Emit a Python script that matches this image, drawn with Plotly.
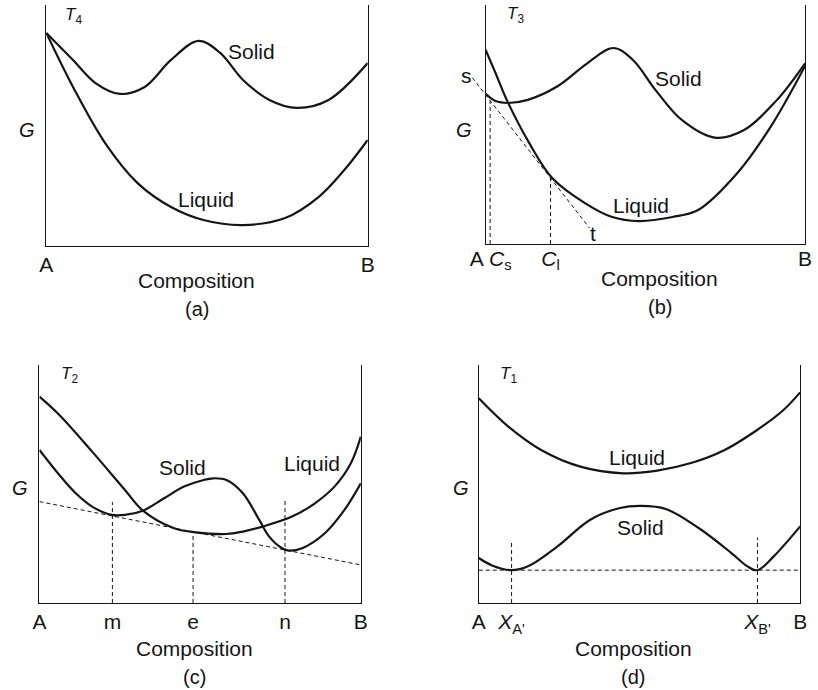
import plotly.graph_objects as go

W, H = 818, 690
FONT = "Liberation Sans, Arial, Helvetica, sans-serif"
INK = "#151515"

# ---------------- data (composition 0=A .. 1=B, free energy G in arbitrary units 0..100) -------------
# (a) T4
a_solid_x = [0, 0.083, 0.153, 0.229, 0.306, 0.388, 0.474, 0.541, 0.612, 0.694, 0.780, 0.878, 1.0]
a_solid_g = [88.4, 77.2, 67.6, 63.1, 66.0, 77.2, 85.1, 80.1, 68.9, 60.6, 57.3, 60.6, 75.9]
a_liquid_x = [0, 0.083, 0.183, 0.284, 0.388, 0.489, 0.612, 0.743, 0.847, 0.927, 1.0]
a_liquid_g = [88.4, 66.0, 42.7, 26.1, 16.2, 10.8, 8.7, 11.6, 20.3, 31.5, 44.0]
a_ticks = [0, 1]
a_ticktext = ["A", "B"]

# (b) T3
b_solid_x = [0, 0.031, 0.071, 0.132, 0.225, 0.317, 0.400, 0.461, 0.532, 0.614, 0.717, 0.809, 0.912, 1.0]
b_solid_g = [62.8, 59.8, 59.0, 60.3, 66.0, 75.5, 82.0, 77.0, 64.4, 51.9, 44.5, 47.7, 60.3, 75.6]
b_liquid_x = [0, 0.031, 0.066, 0.137, 0.209, 0.312, 0.394, 0.480, 0.585, 0.665, 0.788, 0.892, 1.0]
b_liquid_g = [81.2, 71.5, 60.3, 42.1, 27.5, 17.0, 11.4, 9.6, 11.3, 14.2, 29.7, 49.0, 74.5]
b_tangent_x = [-0.042, 0.325]
b_tangent_g = [69.6, 6.7]
b_guides_x = [0.014, 0.203]       # Cs, Cl
b_guides_top = [60.0, 27.6]
b_ticks = [-0.028, 0.046, 0.203, 1.0]
b_ticktext = ["A", "<i>C</i><sub>s</sub>", "<i>C</i><sub>l</sub>", "B"]

# (c) T2
c_liquid_x = [0, 0.062, 0.164, 0.266, 0.322, 0.419, 0.480, 0.582, 0.633, 0.694, 0.786, 0.857, 0.918, 0.969, 1.0]
c_liquid_g = [86.7, 79.0, 63.6, 47.5, 38.8, 31.4, 29.8, 29.0, 30.0, 32.1, 36.3, 41.9, 48.9, 58.7, 69.9]
c_solid_x = [0, 0.062, 0.113, 0.164, 0.225, 0.266, 0.322, 0.388, 0.450, 0.511, 0.541, 0.582, 0.633,
             0.684, 0.715, 0.755, 0.776, 0.817, 0.888, 0.949, 1.0]
c_solid_g = [64.3, 53.8, 46.1, 40.5, 37.0, 37.0, 38.8, 44.0, 48.9, 51.7, 52.4, 51.7, 46.1,
             34.9, 27.9, 23.0, 22.0, 23.0, 29.3, 39.1, 50.3]
c_tangent_x = [0, 1]
c_tangent_g = [42.6, 16.0]
c_guides_x = [0.227, 0.478, 0.764]   # m, e, n
c_guides_top = [42.4, 29.3, 43.5]
c_ticks = [0, 0.227, 0.478, 0.764, 1]
c_ticktext = ["A", "m", "e", "n", "B"]

# (d) T1
d_liquid_x = [0, 0.092, 0.194, 0.316, 0.449, 0.551, 0.663, 0.765, 0.866, 0.948, 1.0]
d_liquid_g = [86.0, 74.1, 64.3, 57.3, 54.5, 55.5, 58.9, 64.3, 72.7, 81.1, 88.5]
d_solid_x = [0, 0.041, 0.102, 0.153, 0.245, 0.347, 0.439, 0.505, 0.582, 0.684, 0.786, 0.835, 0.867, 0.917, 1.0]
d_solid_g = [18.9, 15.8, 13.8, 15.4, 23.8, 35.0, 39.9, 40.8, 39.5, 31.5, 21.0, 15.5, 13.8, 19.5, 32.2]
d_tangent_x = [0, 1]
d_tangent_g = [13.8, 13.8]
d_guides_x = [0.102, 0.867]          # XA', XB'
d_guides_top = [25.9, 27.5]
d_ticks = [0, 0.102, 0.867, 1]
d_ticktext = ["A", "<i>X</i><sub>A'</sub>", "<i>X</i><sub>B'</sub>", "B"]

# ---------------- layout geometry (pixels) ----------------
PANELS = {
    "a": dict(L=40, R=367, T=5, B=246, n=""),
    "b": dict(L=487, R=812, T=5, B=244, n="2"),
    "c": dict(L=33, R=360, T=365, B=603, n="3"),
    "d": dict(L=480, R=807, T=365, B=603, n="4"),
}


def xdom(p):
    return [p["L"] / W, p["R"] / W]


def ydom(p):
    return [1 - p["B"] / H, 1 - p["T"] / H]


fig = go.Figure()


def curve(x, y, n):
    fig.add_trace(go.Scatter(x=x, y=y, mode="lines", xaxis="x" + n, yaxis="y" + n,
                             line=dict(color=INK, width=2.2, shape="spline", smoothing=1.0),
                             hoverinfo="skip"))


def dashed(x, y, n):
    fig.add_trace(go.Scatter(x=x, y=y, mode="lines", xaxis="x" + n, yaxis="y" + n,
                             line=dict(color=INK, width=1, dash="4px,3px"),
                             hoverinfo="skip"))


def guides(xs, tops, n):
    gx, gy = [], []
    for xv, tv in zip(xs, tops):
        gx += [xv, xv, None]
        gy += [0, tv, None]
    dashed(gx, gy, n)


curve(a_solid_x, a_solid_g, "")
curve(a_liquid_x, a_liquid_g, "")

curve(b_solid_x, b_solid_g, "2")
curve(b_liquid_x, b_liquid_g, "2")
guides(b_guides_x, b_guides_top, "2")
dashed(b_tangent_x, b_tangent_g, "5")   # extended overlay so the tangent can pass the A edge

curve(c_liquid_x, c_liquid_g, "3")
curve(c_solid_x, c_solid_g, "3")
dashed(c_tangent_x, c_tangent_g, "3")
guides(c_guides_x, c_guides_top, "3")

curve(d_liquid_x, d_liquid_g, "4")
curve(d_solid_x, d_solid_g, "4")
dashed(d_tangent_x, d_tangent_g, "4")
guides(d_guides_x, d_guides_top, "4")

tickfont = dict(family=FONT, size=21, color=INK)
ticks_of = {"a": (a_ticks, a_ticktext), "b": (b_ticks, b_ticktext),
            "c": (c_ticks, c_ticktext), "d": (d_ticks, d_ticktext)}

layout = dict(width=W, height=H, margin=dict(l=0, r=0, t=0, b=0),
              paper_bgcolor="white", plot_bgcolor="rgba(0,0,0,0)", showlegend=False)

for key, p in PANELS.items():
    n = p["n"]
    tv, tt = ticks_of[key]
    layout["xaxis" + n] = dict(domain=xdom(p), range=[0, 1], anchor="y" + n,
                               showgrid=False, zeroline=False, showline=True,
                               linecolor=INK, linewidth=1.2, ticks="",
                               tickvals=tv, ticktext=tt, tickfont=tickfont,
                               showticklabels=(key != "b"), fixedrange=True)
    layout["yaxis" + n] = dict(domain=ydom(p), range=[0, 100], anchor="x" + n,
                               showgrid=False, zeroline=False, showline=True, mirror=True,
                               linecolor=INK, linewidth=1.2, ticks="",
                               showticklabels=False, fixedrange=True)

# overlay axes for panel (b): same scale, but reaching a little left of A
pb = PANELS["b"]
ext = 21
layout["xaxis5"] = dict(domain=[(pb["L"] - ext) / W, pb["R"] / W],
                        range=[-ext / (pb["R"] - pb["L"]), 1], anchor="y5",
                        showgrid=False, zeroline=False, showline=False, ticks="",
                        tickvals=b_ticks, ticktext=b_ticktext, tickfont=tickfont,
                        fixedrange=True)
layout["yaxis5"] = dict(domain=ydom(pb), range=[0, 100], anchor="x5", visible=False,
                        fixedrange=True)

fig.update_layout(**layout)


def label(text, cx, cy, size=21):
    fig.add_annotation(text=text, x=cx / W, y=1 - cy / H, xref="paper", yref="paper",
                       xanchor="center", yanchor="middle", showarrow=False,
                       font=dict(family=FONT, size=size, color=INK))


# temperature labels
label("<i>T</i><sub>4</sub>", 68, 16, 17)
label("<i>T</i><sub>3</sub>", 517, 15, 17)
label("<i>T</i><sub>2</sub>", 64, 375, 17)
label("<i>T</i><sub>1</sub>", 510, 375, 17)
# G axis labels
for gx, gy in [(20, 130), (465, 130), (13, 488), (462, 488)]:
    label("<i>G</i>", gx, gy, 20)
# curve labels
label("Solid", 249, 51)
label("Liquid", 202, 200)
label("Solid", 683, 78)
label("Liquid", 645, 205)
label("s", 468, 75)
label("t", 596, 233)
label("Solid", 179, 467)
label("Liquid", 310, 463)
label("Liquid", 641, 457)
label("Solid", 645, 527)
# axis titles and panel letters
for cx, cy, cap in [(193, 280, "(a)"), (664, 278, "(b)"), (191, 648, "(c)"), (637, 648, "(d)")]:
    label("Composition", cx, cy)
    label(cap, cx, cy + 29, 20)

fig.write_html("out.html")
